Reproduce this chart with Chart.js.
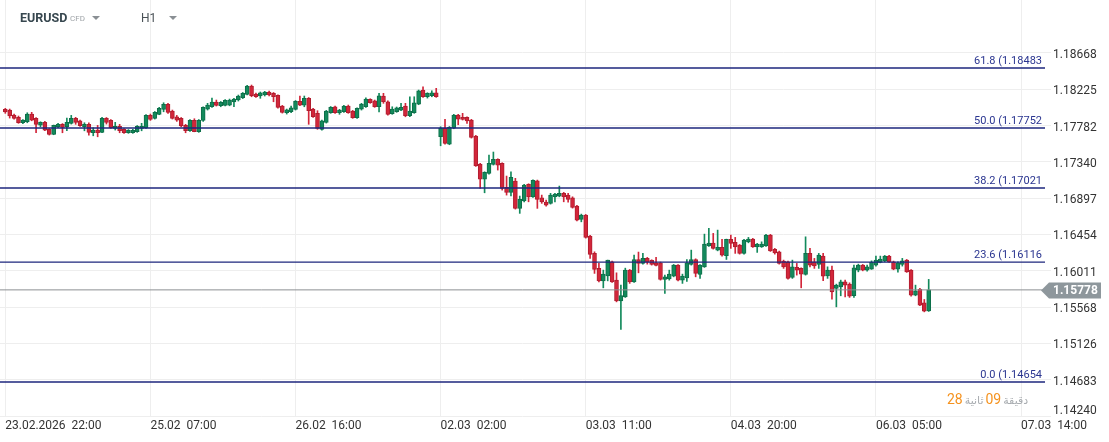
<!DOCTYPE html>
<html><head><meta charset="utf-8">
<script src="https://cdn.jsdelivr.net/npm/chart.js@4.4.1/dist/chart.umd.min.js"></script>
<style>
html,body{margin:0;padding:0;background:#fff;width:1109px;height:442px;overflow:hidden;font-family:Roboto,"Noto Sans",sans-serif;}
#wrap{position:relative;width:1109px;height:442px;}
canvas{position:absolute;left:0;top:0;}
.abs{position:absolute;white-space:nowrap;}
.tri{position:absolute;width:0;height:0;border-left:4px solid transparent;border-right:4px solid transparent;border-top:4px solid #8a8f94;}
#timer{position:absolute;left:947px;top:389px;direction:ltr;white-space:nowrap;}
#timer span{unicode-bidi:isolate;display:inline-block;}
#timer .o{color:#f5921e;font-size:14px;}
#timer .g{color:#a9adb1;font-size:11px;font-family:"DejaVu Sans",sans-serif;margin:0 2px;}
</style></head><body>
<div id="wrap">
<canvas id="c" width="1109" height="442"></canvas>
<div class="abs" style="left:20px;top:10px;font-weight:700;font-size:12.5px;color:#37474f;">EURUSD</div>
<div class="abs" style="left:70px;top:14px;font-size:8px;color:#9ea3a7;">CFD</div>
<div class="tri" style="left:92px;top:16px;"></div>
<div class="abs" style="left:141px;top:11px;font-size:12px;color:#4a5257;">H1</div>
<div class="tri" style="left:169px;top:16px;"></div>
<div id="timer"><span class="o">28</span><span class="g">ثانية</span><span class="o">09</span><span class="g">دقيقة</span></div>
</div>
<script>
// ---- data (EURUSD H1 candles, index 0 = 23.02.2026 22:00) ----
const openP = [
1.17980,1.17971,1.17910,1.17882,1.17816,1.17828,1.17922,1.17870,1.17788,1.17821,
1.17736,1.17675,1.17767,1.17797,1.17767,1.17809,1.17870,1.17840,1.17767,1.17797,
1.17694,1.17727,1.17699,1.17870,1.17845,1.17748,1.17772,1.17736,1.17694,1.17694,
1.17706,1.17748,1.17755,1.17906,1.17870,1.17919,1.17980,1.18041,1.17959,1.17889,
1.17870,1.17784,1.17718,1.17845,1.17706,1.17845,1.17983,1.18011,1.18069,1.18023,
1.18028,1.18032,1.18069,1.18093,1.18121,1.18163,1.18264,1.18166,1.18142,1.18154,
1.18191,1.18175,1.18150,1.18020,1.17938,1.17950,1.17980,1.18077,1.18032,1.18114,
1.17983,1.17931,1.17736,1.17821,1.17938,1.18011,1.17938,1.17950,1.18020,1.17959,
1.17877,1.17983,1.18011,1.18102,1.18084,1.18011,1.18142,1.18072,1.17926,1.17950,
1.17971,1.18020,1.17901,1.17938,1.18044,1.18215,1.18133,1.18145,1.18182,1.17645,
1.17748,1.17556,1.17751,1.17910,1.17882,1.17882,1.17849,1.17654,1.17312,1.17129,
1.17199,1.17309,1.17370,1.17321,1.17028,1.16967,1.17105,1.16772,1.16864,1.17065,
1.16913,1.17108,1.16901,1.16849,1.16833,1.16913,1.16922,1.16955,1.16934,1.16901,
1.16800,1.16637,1.16690,1.16434,1.16223,1.16040,1.15888,1.15949,1.16120,1.15897,
1.15644,1.15693,1.16019,1.15876,1.16149,1.16101,1.16162,1.16137,1.16108,1.16108,
1.15905,1.15913,1.15946,1.16080,1.15897,1.15925,1.16088,1.16149,1.15967,1.16059,
1.16315,1.16348,1.16263,1.16296,1.16194,1.16394,1.16357,1.16324,1.16223,1.16364,
1.16397,1.16303,1.16303,1.16315,1.16446,1.16272,1.16242,1.16129,1.16120,1.15930,
1.16052,1.16040,1.15967,1.16223,1.16120,1.16088,1.16190,1.15949,1.16019,1.15796,
1.15815,1.15876,1.15848,1.15706,1.16019,1.16080,1.16019,1.16031,1.16080,1.16113,
1.16129,1.16190,1.16120,1.16031,1.16088,1.16141,1.16019,1.15714,1.15784,1.15620,
1.15522];
const highP = [
1.17992,1.17983,1.17922,1.17898,1.17855,1.17938,1.17943,1.17880,1.17828,1.17833,
1.17745,1.17788,1.17809,1.17806,1.17873,1.17906,1.17882,1.17849,1.17816,1.17816,
1.17755,1.17784,1.17882,1.17880,1.17855,1.17821,1.17797,1.17745,1.17733,1.17736,
1.17782,1.17809,1.17916,1.17922,1.17953,1.18004,1.18060,1.18053,1.17971,1.17906,
1.17880,1.17797,1.17855,1.17865,1.17855,1.18011,1.18053,1.18117,1.18093,1.18075,
1.18099,1.18105,1.18114,1.18154,1.18185,1.18272,1.18276,1.18178,1.18191,1.18199,
1.18203,1.18185,1.18158,1.18028,1.17983,1.18020,1.18087,1.18142,1.18142,1.18124,
1.17992,1.17963,1.17849,1.17967,1.18014,1.18020,1.17980,1.18028,1.18032,1.17967,
1.17999,1.18053,1.18121,1.18109,1.18093,1.18175,1.18175,1.18084,1.18011,1.18008,
1.18053,1.18053,1.18133,1.18133,1.18215,1.18255,1.18182,1.18206,1.18236,1.17767,
1.17858,1.17770,1.17919,1.17919,1.17931,1.17889,1.17858,1.17662,1.17321,1.17218,
1.17422,1.17459,1.17377,1.17328,1.17166,1.17218,1.17138,1.16922,1.17065,1.17072,
1.17121,1.17117,1.16934,1.16873,1.16955,1.16955,1.17044,1.16967,1.16955,1.16913,
1.16808,1.16702,1.16698,1.16442,1.16242,1.16101,1.16019,1.16141,1.16129,1.15986,
1.15836,1.16043,1.16027,1.16202,1.16239,1.16223,1.16174,1.16145,1.16174,1.16117,
1.15958,1.16019,1.16088,1.16088,1.15970,1.16149,1.16263,1.16157,1.16088,1.16458,
1.16528,1.16467,1.16507,1.16394,1.16397,1.16446,1.16418,1.16332,1.16394,1.16418,
1.16406,1.16345,1.16364,1.16455,1.16455,1.16284,1.16251,1.16141,1.16129,1.16141,
1.16101,1.16047,1.16425,1.16284,1.16162,1.16223,1.16223,1.16059,1.16068,1.15848,
1.15897,1.15897,1.15864,1.16080,1.16092,1.16088,1.16080,1.16132,1.16190,1.16190,
1.16198,1.16198,1.16129,1.16120,1.16162,1.16149,1.16027,1.15836,1.15796,1.15661,
1.15906];
const lowP = [
1.17931,1.17873,1.17861,1.17809,1.17806,1.17816,1.17840,1.17694,1.17767,1.17718,
1.17666,1.17670,1.17755,1.17694,1.17718,1.17800,1.17797,1.17770,1.17718,1.17666,
1.17657,1.17645,1.17694,1.17800,1.17748,1.17727,1.17694,1.17687,1.17687,1.17687,
1.17699,1.17718,1.17748,1.17845,1.17861,1.17914,1.17950,1.17931,1.17861,1.17833,
1.17767,1.17694,1.17711,1.17706,1.17699,1.17833,1.17971,1.18004,1.18020,1.18011,
1.18020,1.18023,1.18011,1.18081,1.18111,1.18154,1.18133,1.18124,1.18114,1.18142,
1.18142,1.18072,1.17995,1.17934,1.17922,1.17938,1.17971,1.18023,1.18011,1.17797,
1.17882,1.17736,1.17727,1.17812,1.17931,1.17931,1.17919,1.17943,1.17931,1.17870,
1.17870,1.17971,1.18004,1.18053,1.18004,1.17947,1.18053,1.17910,1.17919,1.17943,
1.17963,1.17889,1.17889,1.17931,1.18036,1.18126,1.18117,1.18133,1.18126,1.17535,
1.17556,1.17548,1.17743,1.17792,1.17849,1.17809,1.17629,1.17284,1.17016,1.16962,
1.17190,1.17300,1.17239,1.16995,1.16934,1.16925,1.16763,1.16711,1.16852,1.16852,
1.16906,1.16772,1.16833,1.16800,1.16824,1.16852,1.16913,1.16852,1.16849,1.16775,
1.16620,1.16608,1.16409,1.16162,1.15979,1.15876,1.15803,1.15888,1.15869,1.15632,
1.15296,1.15686,1.15857,1.15869,1.15986,1.16092,1.16092,1.16080,1.16071,1.15897,
1.15735,1.15897,1.15937,1.15888,1.15857,1.15881,1.16080,1.15937,1.15918,1.16052,
1.16308,1.16275,1.16254,1.16190,1.16149,1.16284,1.16223,1.16214,1.16214,1.16352,
1.16296,1.16235,1.16296,1.16308,1.16247,1.16214,1.16092,1.16040,1.15909,1.15918,
1.15958,1.15803,1.15958,1.16059,1.16040,1.16040,1.15889,1.15918,1.15665,1.15571,
1.15706,1.15693,1.15686,1.15686,1.15998,1.16010,1.16007,1.16028,1.16068,1.16108,
1.16120,1.16113,1.16023,1.15995,1.16068,1.15991,1.15702,1.15706,1.15584,1.15510,
1.15515];
const closeP = [
1.17947,1.17898,1.17870,1.17816,1.17849,1.17922,1.17849,1.17797,1.17821,1.17727,
1.17675,1.17784,1.17797,1.17760,1.17821,1.17870,1.17821,1.17779,1.17797,1.17699,
1.17727,1.17694,1.17870,1.17821,1.17755,1.17772,1.17718,1.17694,1.17723,1.17723,
1.17772,1.17772,1.17906,1.17858,1.17943,1.17992,1.18041,1.17943,1.17870,1.17849,
1.17776,1.17718,1.17845,1.17706,1.17845,1.18004,1.18032,1.18069,1.18028,1.18065,
1.18089,1.18093,1.18105,1.18142,1.18175,1.18264,1.18145,1.18133,1.18182,1.18191,
1.18154,1.18133,1.18004,1.17943,1.17975,1.17999,1.18077,1.18032,1.18114,1.17963,
1.17889,1.17748,1.17840,1.17959,1.18004,1.17938,1.17971,1.18020,1.17938,1.17877,
1.17992,1.18044,1.18105,1.18060,1.18011,1.18145,1.18072,1.17919,1.17983,1.17999,
1.18004,1.17901,1.17959,1.18060,1.18206,1.18133,1.18175,1.18182,1.18133,1.17748,
1.17565,1.17760,1.17910,1.17861,1.17858,1.17837,1.17638,1.17291,1.17129,1.17211,
1.17321,1.17370,1.17300,1.17016,1.16967,1.17150,1.16772,1.16882,1.17056,1.16913,
1.17113,1.16882,1.16852,1.16812,1.16934,1.16946,1.16955,1.16913,1.16882,1.16784,
1.16629,1.16690,1.16418,1.16211,1.16027,1.15888,1.15970,1.16141,1.15876,1.15644,
1.15710,1.16019,1.15876,1.16149,1.16101,1.16162,1.16117,1.16088,1.16076,1.15905,
1.15937,1.15970,1.16080,1.15897,1.15946,1.16108,1.16149,1.15979,1.16080,1.16336,
1.16348,1.16284,1.16296,1.16202,1.16394,1.16345,1.16303,1.16223,1.16385,1.16397,
1.16303,1.16336,1.16336,1.16446,1.16254,1.16230,1.16101,1.16059,1.15918,1.16059,
1.16019,1.15970,1.16223,1.16080,1.16071,1.16202,1.15946,1.16019,1.15754,1.15836,
1.15876,1.15836,1.15702,1.16047,1.16080,1.16019,1.16059,1.16113,1.16141,1.16153,
1.16190,1.16120,1.16031,1.16108,1.16132,1.15998,1.15714,1.15767,1.15592,1.15519,
1.15778];
const xTickIdx = [0, 33, 66, 99, 132, 165, 198, 231];
const xTickLabels = ['23.02.2026  22:00','25.02  07:00','26.02  16:00','02.03  02:00','03.03  11:00','04.03  20:00','06.03  05:00','07.03  14:00'];
const yTicks = [1.14240,1.14683,1.15126,1.15568,1.16011,1.16454,1.16897,1.17340,1.17782,1.18225,1.18668];
const fibLevels = ['61.8','50.0','38.2','23.6','0.0'];
const fibPrices = [1.18483,1.17752,1.17021,1.16116,1.14654];
const lastPrice = 1.15778;

// ---- view ----
const X_MIN = -1.205, X_MAX = 236.45;
const Y_MIN = 1.14240, Y_MAX = 1.19313;
const UP = '#138a5c', UP_B = '#0d6f49', DN = '#d2263a', DN_B = '#b01d2f';

const wickData = [], bodyData = [], wickCol = [], bodyCol = [], bodyBorder = [];
for (let i = 0; i < openP.length; i++) {
  const up = closeP[i] >= openP[i];
  wickData.push({x: i, y: [lowP[i], highP[i]]});
  bodyData.push({x: i, y: [openP[i], closeP[i]]});
  wickCol.push(up ? UP : DN);
  bodyCol.push(up ? UP : DN);
  bodyBorder.push(up ? UP_B : DN_B);
}
const hline = p => [{x: X_MIN, y: p}, {x: X_MAX, y: p}];

const datasets = [];
fibPrices.forEach((p, k) => datasets.push({
  type: 'line', label: 'fib ' + fibLevels[k], data: hline(p), borderColor: '#1c267c',
  borderWidth: 1.4, pointRadius: 0, order: 0
}));
datasets.push({type: 'line', label: 'last', data: hline(lastPrice), borderColor: '#8c8f92', borderWidth: 1, pointRadius: 0, order: 1});
datasets.push({type: 'bar', label: 'body', data: bodyData, backgroundColor: bodyCol, borderColor: bodyBorder,
  borderWidth: 1, borderSkipped: false, barThickness: 4, grouped: false, minBarLength: 1, order: 2});
datasets.push({type: 'bar', label: 'wick', data: wickData, backgroundColor: wickCol, borderWidth: 0,
  barThickness: 1, grouped: false, order: 3});

const overlay = {
  id: 'overlay',
  afterDatasetsDraw(chart) {
    const {ctx, chartArea: a, scales: {y}} = chart;
    ctx.save();
    ctx.font = '11px Roboto';
    ctx.fillStyle = '#2a3590';
    ctx.textAlign = 'right';
    ctx.textBaseline = 'alphabetic';
    fibLevels.forEach((lv, k) => {
      const py = y.getPixelForValue(fibPrices[k]);
      ctx.fillText(lv + ' (' + fibPrices[k].toFixed(5), a.right - 3, py - 4);
    });
    ctx.restore();
  },
  afterDraw(chart) {
    const {ctx, chartArea: a, scales: {y}} = chart;
    const py = Math.round(y.getPixelForValue(lastPrice)) + 0.5;
    ctx.save();
    ctx.fillStyle = '#8e979c';
    ctx.beginPath();
    ctx.moveTo(a.right - 4, py);
    ctx.lineTo(a.right + 4, py - 8);
    ctx.lineTo(1101, py - 8);
    ctx.lineTo(1101, py + 8);
    ctx.lineTo(a.right + 4, py + 8);
    ctx.closePath();
    ctx.fill();
    ctx.fillStyle = '#ffffff';
    ctx.font = 'bold 12px Roboto';
    ctx.textAlign = 'left';
    ctx.textBaseline = 'middle';
    ctx.fillText(lastPrice.toFixed(5), a.right + 8, py + 0.5);
    ctx.fillStyle = '#333333';
    ctx.font = '12px Roboto';
    ctx.fillText(yTicks[0].toFixed(5), a.right + 8, y.getPixelForValue(yTicks[0]) - 5);
    ctx.restore();
  }
};

Chart.defaults.font.family = 'Roboto';
Chart.defaults.font.size = 12;
Chart.defaults.color = '#333333';

new Chart(document.getElementById('c'), {
  type: 'bar',
  data: {datasets},
  options: {
    responsive: false,
    devicePixelRatio: 1,
    animation: false,
    layout: {padding: 0},
    plugins: {legend: {display: false}, tooltip: {enabled: false}},
    scales: {
      x: {
        type: 'linear', min: X_MIN, max: X_MAX, offset: false,
        grid: {color: '#eeeeee', offset: false, drawTicks: false, lineWidth: 1},
        border: {display: false},
        afterBuildTicks: s => { s.ticks = xTickIdx.map(v => ({value: v})); },
        afterFit: s => { s.height = 26; s.paddingLeft = 0; s.paddingRight = 0; },
        ticks: {
          autoSkip: false, maxRotation: 0, minRotation: 0, align: 'start', padding: 3,
          color: '#333333', font: {size: 12},
          callback: (v, i) => xTickLabels[xTickIdx.indexOf(v)] ?? ''
        }
      },
      y: {
        type: 'linear', position: 'right', min: Y_MIN, max: Y_MAX, beginAtZero: false,
        grid: {color: '#eeeeee', drawTicks: true, tickLength: 6, lineWidth: 1},
        border: {display: false},
        afterBuildTicks: s => { s.ticks = yTicks.map(v => ({value: v})); },
        afterFit: s => { s.width = 64; s.paddingTop = 0; s.paddingBottom = 0; },
        ticks: {
          padding: 2, labelOffset: 2, color: '#333333', font: {size: 12},
          callback: (v, i) => i === 0 ? '' : v.toFixed(5)
        }
      }
    }
  },
  plugins: [overlay]
});
</script>
</body></html>
